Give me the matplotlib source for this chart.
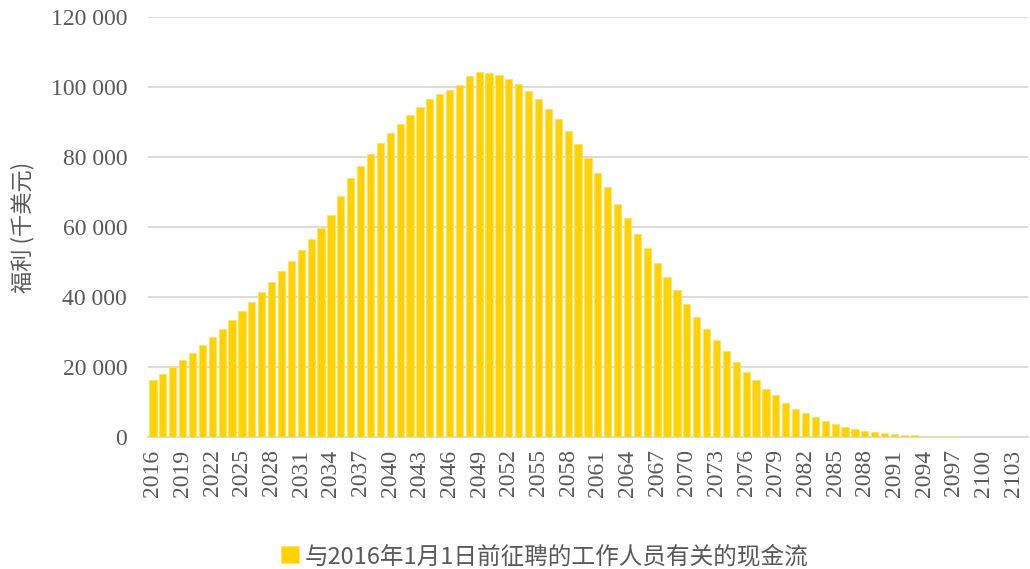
import numpy as np
import matplotlib
matplotlib.use("Agg")
from matplotlib import pyplot as plt
from matplotlib.ticker import FuncFormatter

years = list(range(2016, 2105))
# 福利 (千美元)
benefits = [
    16300, 18100, 20000, 21900, 24000, 26300, 28700, 30900, 33400, 36000,
    38700, 41500, 44400, 47300, 50300, 53500, 56600, 59800, 63400, 69000,
    73900, 77300, 80800, 83900, 86800, 89500, 92000, 94300, 96500, 98100,
    99300, 100700, 103100, 104300, 104100, 103400, 102300, 100800, 98900, 96600,
    93800, 90800, 87400, 83700, 79600, 75500, 71300, 66700, 62500, 58100,
    53900, 49800, 45700, 42000, 38100, 34400, 31000, 27600, 24500, 21500,
    18700, 16200, 13800, 11900, 9700, 8100, 6800, 5600, 4500, 3600,
    2900, 2200, 1700, 1300, 1000, 750, 550, 450, 350, 300,
    220, 160, 120, 90, 60, 40, 25, 15, 10,
]
series_name = "与2016年1月1日前征聘的工作人员有关的现金流"
y_label = "福利 (千美元)"

gray = "#595959"
gold = "#FFD200"
cjk = ["Noto Sans CJK SC", "DejaVu Sans"]

fig = plt.figure(figsize=(10.3, 5.69), dpi=100)
ax = fig.add_axes([0.1437, 0.232, 0.8543, 0.738])

x = np.arange(len(years))
bars = ax.bar(x, benefits, width=0.73, color=gold, edgecolor="#FFE066",
              linewidth=0.5, label=series_name, zorder=3)

ax.set_xlim(-0.5, len(years) - 0.5)
ax.set_ylim(0, 120000)
ax.set_yticks(range(0, 120001, 20000))
ax.yaxis.set_major_formatter(FuncFormatter(lambda v, p: f"{int(v):,}".replace(",", " ")))
ax.set_xticks(x[::3])
ax.set_xticklabels([str(y) for y in years[::3]], rotation=90)

ax.grid(axis="y", color="#D9D9D9", linewidth=1.3, zorder=0)
for s in ["top", "right", "left"]:
    ax.spines[s].set_visible(False)
ax.spines["bottom"].set_color("#D9D9D9")
ax.spines["bottom"].set_linewidth(1.3)
ax.tick_params(axis="both", length=0, colors=gray, labelsize=17)
ax.tick_params(axis="x", pad=9)
ax.tick_params(axis="y", pad=15)
for lab in ax.get_xticklabels() + ax.get_yticklabels():
    lab.set_family("Liberation Serif")

ax.set_ylabel(y_label, family=cjk, fontsize=16, color=gray, labelpad=12)

fig.legend(handles=[bars], labels=[series_name], loc="center",
           bbox_to_anchor=(0.529, 0.022), frameon=False, handlelength=0.75,
           handleheight=0.75, handletextpad=0.25,
           prop={"family": cjk, "size": 17}, labelcolor=gray)

fig.savefig("out.png", dpi=100)
